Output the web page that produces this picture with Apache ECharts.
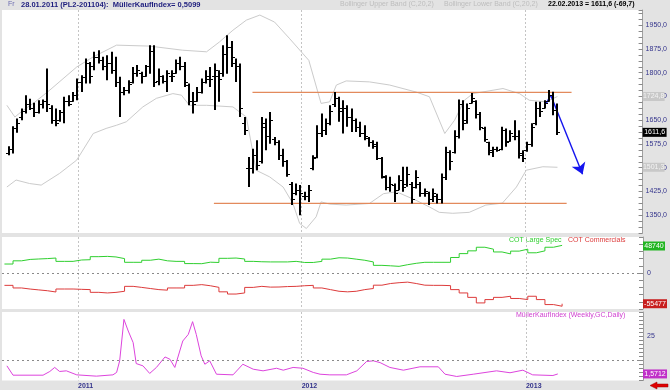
<!DOCTYPE html>
<html><head><meta charset="utf-8">
<script src="https://cdn.jsdelivr.net/npm/echarts@6/dist/echarts.min.js"></script>
<style>html,body{margin:0;padding:0;background:#e3e3e3}#c{width:670px;height:390px}</style>
</head><body><div id="c"></div>
<script>
// ---------- data ----------
const firstBarDate = '2010-09-10';      // weekly bars (Fridays)
const axisStart = '2010-08-30', axisEnd = '2013-07-11';
const yearLabels = ['2011', '2012', '2013'];
const yearDates = ['2011-01-01', '2012-01-01', '2013-01-01'];

const highs = [1568,1631,1655,1687,1729,1718,1705,1713,1715,1813,1697,1687,1682,1724,1729,1739,1782,1792,1845,1834,1866,1871,1850,1855,1866,1850,1787,1755,1776,1818,1824,1803,1824,1887,1887,1813,1792,1808,1808,1842,1850,1834,1766,1739,1755,1782,1808,1818,1829,1808,1887,1918,1900,1845,1829,1660,1534,1560,1587,1660,1655,1676,1597,1587,1560,1524,1455,1450,1445,1424,1445,1539,1634,1671,1655,1697,1739,1724,1713,1697,1687,1655,1645,1634,1597,1587,1582,1534,1476,1471,1450,1476,1503,1503,1455,1492,1455,1434,1424,1434,1418,1482,1566,1555,1618,1715,1713,1703,1736,1713,1676,1629,1582,1566,1566,1629,1624,1618,1650,1618,1555,1582,1640,1708,1708,1713,1745,1740,1703];
const lows = [1539,1545,1610,1650,1671,1682,1660,1671,1687,1676,1639,1631,1645,1640,1694,1708,1713,1739,1766,1766,1808,1829,1808,1776,1797,1755,1660,1729,1734,1766,1787,1766,1787,1797,1755,1760,1766,1739,1771,1797,1808,1755,1697,1671,1708,1734,1766,1755,1682,1708,1787,1797,1818,1771,1660,1603,1439,1482,1492,1513,1555,1576,1571,1524,1503,1471,1382,1413,1350,1397,1392,1492,1530,1597,1603,1634,1692,1645,1608,1629,1613,1613,1597,1587,1566,1560,1524,1466,1429,1424,1392,1429,1424,1440,1387,1434,1408,1408,1382,1392,1387,1387,1461,1492,1545,1592,1618,1639,1703,1655,1618,1582,1539,1534,1550,1555,1566,1582,1587,1529,1518,1550,1566,1634,1660,1687,1708,1666,1603];
const opens = [1545,1560,1625,1660,1680,1700,1690,1675,1700,1710,1690,1650,1650,1675,1710,1710,1730,1770,1785,1830,1820,1850,1840,1820,1830,1810,1770,1740,1745,1770,1800,1800,1790,1820,1870,1775,1790,1775,1790,1800,1830,1820,1760,1710,1710,1740,1770,1780,1790,1790,1800,1860,1880,1830,1820,1640,1500,1500,1540,1520,1630,1600,1590,1580,1540,1520,1450,1420,1430,1410,1410,1500,1535,1610,1620,1640,1700,1720,1690,1690,1660,1650,1630,1610,1595,1580,1575,1530,1470,1440,1445,1430,1460,1450,1450,1440,1450,1420,1420,1400,1410,1400,1470,1550,1550,1600,1700,1650,1705,1710,1670,1625,1580,1555,1560,1560,1620,1585,1600,1600,1545,1555,1575,1640,1690,1690,1710,1730,1681.3];
const closes = [1560,1625,1640,1680,1700,1690,1675,1700,1710,1700,1650,1640,1675,1710,1700,1730,1770,1785,1830,1790,1850,1840,1820,1830,1810,1770,1740,1745,1765,1800,1810,1790,1820,1870,1770,1790,1775,1800,1790,1830,1820,1770,1710,1700,1740,1770,1790,1780,1810,1780,1860,1880,1850,1820,1690,1620,1500,1540,1510,1640,1600,1650,1580,1540,1520,1480,1400,1430,1420,1410,1430,1530,1610,1620,1640,1680,1720,1680,1690,1660,1650,1630,1610,1600,1580,1570,1530,1475,1440,1450,1420,1460,1440,1480,1400,1470,1420,1425,1400,1420,1400,1470,1550,1520,1600,1700,1640,1690,1720,1670,1630,1590,1550,1560,1555,1620,1580,1610,1600,1540,1530,1575,1630,1690,1680,1705,1730,1681.3,1611.6];

const upperDates = ['2010-09-07','2010-09-20','2010-10-04','2010-10-20','2010-11-16','2010-12-30','2011-01-26','2011-03-05','2011-04-28','2011-06-21','2011-07-30','2011-08-20','2011-09-11','2011-10-03','2011-10-25','2011-11-18','2011-12-12','2012-01-13','2012-02-02','2012-02-16','2012-02-27','2012-03-14','2012-04-21','2012-05-24','2012-07-06','2012-07-28','2012-08-22','2012-09-07','2012-09-23','2012-10-07','2012-11-25','2012-12-22','2013-01-07','2013-02-03','2013-02-22'];
const upperVals = [1697,1660,1682,1703,1745,1818,1850,1887,1884,1871,1866,1897,1934,1966,1982,1960,1909,1839,1703,1708,1761,1774,1771,1761,1739,1724,1608,1650,1713,1734,1750,1734,1713,1708,1724.8];
const lowerDates = ['2010-09-07','2010-09-22','2010-10-14','2010-11-02','2010-12-02','2010-12-30','2011-01-26','2011-02-16','2011-03-05','2011-03-21','2011-04-17','2011-05-09','2011-06-05','2011-06-19','2011-07-02','2011-07-30','2011-09-11','2011-10-03','2011-10-19','2011-11-10','2011-12-02','2011-12-18','2011-12-29','2012-01-09','2012-01-25','2012-02-02','2012-02-16','2012-03-14','2012-04-21','2012-05-14','2012-06-04','2012-07-06','2012-07-28','2012-08-13','2012-09-04','2012-10-01','2012-10-28','2012-11-24','2012-12-17','2013-01-02','2013-01-29','2013-02-22'];
const lowerVals = [1439,1461,1450,1445,1482,1524,1608,1624,1634,1645,1692,1719,1734,1729,1697,1697,1692,1660,1492,1471,1439,1387,1324,1308,1345,1392,1385,1382,1387,1418,1424,1397,1376,1359,1356,1359,1382,1388,1439,1492,1503,1501.3];

const resistanceLevel = 1738, resistanceFrom = '2011-10-13', resistanceTo = '2013-03-17';
const supportLevel = 1387, supportFrom = '2011-08-11', supportTo = '2013-03-09';
const projDates = ['2013-02-04', '2013-02-11', '2013-04-04'];
const projVals = [1704, 1729, 1479];

// COT, one value every two weeks
const cotStart = '2010-09-03';
const cotLargeSpec = [16200,22000,24500,25300,26000,27000,21000,21000,23500,24000,29500,30000,29000,26000,19300,19300,23000,25000,22000,21000,21000,17000,16800,19500,19000,26500,27000,25300,21000,20300,20000,20000,20000,21000,19000,19000,21000,25000,27500,27000,25000,23000,20000,13800,13000,12000,15000,17500,19300,19300,19300,19300,28000,35000,40000,46500,43000,38000,34500,39500,43000,36500,40000,46500,49900,48740];
const cotCommercials = [-22300,-27000,-29000,-30500,-32000,-34300,-28900,-28900,-29500,-30000,-34900,-36000,-35000,-33000,-24100,-26000,-28000,-30000,-31000,-27000,-27000,-22300,-21000,-23000,-25900,-34000,-38000,-36000,-26000,-24100,-25500,-25300,-24500,-24100,-23000,-22300,-27000,-30000,-33000,-34000,-33000,-30000,-28000,-22000,-19000,-17500,-16500,-19000,-22000,-22300,-22300,-22800,-30000,-36000,-44000,-54000,-48000,-44000,-42000,-46000,-48000,-42000,-48000,-57000,-60000,-55477];

const mkiDates = ['2010-09-07','2010-09-17','2010-11-05','2010-11-16','2010-11-24','2010-12-02','2010-12-13','2010-12-30','2011-01-31','2011-02-27','2011-03-05','2011-03-10','2011-03-17','2011-03-24','2011-04-01','2011-04-06','2011-04-17','2011-04-28','2011-05-09','2011-05-23','2011-05-31','2011-06-08','2011-06-21','2011-06-30','2011-07-07','2011-07-13','2011-07-21','2011-07-27','2011-08-04','2011-08-15','2011-09-11','2011-09-27','2011-10-14','2011-10-30','2011-11-21','2011-12-02','2011-12-18','2012-01-03','2012-01-20','2012-01-31','2012-02-16','2012-03-14','2012-03-31','2012-04-16','2012-04-27','2012-05-08','2012-05-24','2012-06-15','2012-07-12','2012-08-11','2012-08-22','2012-09-10','2012-10-07','2012-11-14','2012-12-06','2012-12-27','2013-01-12','2013-02-14','2013-02-22'];
const mkiVals = [6.6,0.8,0.8,3.1,5.6,3.1,3.5,1.0,0.2,1.0,2.5,9.7,35.4,28.2,21,8,6.6,1.9,5.6,12.1,10.7,5.6,22,26.1,34,26.1,12.8,7.6,9.7,1.4,1.0,7.6,4.5,3.5,5.1,3.9,5.6,5.1,2.5,1.4,1.0,1.0,3.5,9.3,9.7,8.6,5.6,3.9,6.0,6.0,1.4,0.0,1.4,3.5,2.3,3.9,1.0,0.6,1.5712];
const mkiThreshold = 10;

// ---------- helpers ----------
const DAY = 86400000;
const t = s => Date.parse(s + 'T00:00:00Z');
const xMin = t(axisStart), xMax = t(axisEnd);
const yearTicks = yearDates.map(t);
const barData = opens.map((o, i) => [t(firstBarDate) + i * 7 * DAY, o, highs[i], lows[i], closes[i]]);
const pairs = (ds, vs) => ds.map((d, i) => [t(d), vs[i]]);
const cotData = vs => vs.map((v, i) => [t(cotStart) + i * 14 * DAY, v]);
const fmtDe = (v, d) => v.toFixed(d).replace('.', ',');
const FONT = 'Liberation Sans, Arial, sans-serif';
const AX = '#34348c';
const last = a => a[a.length - 1];

function box(x, y, text, bg, fg, w) {
  return { coord: [x, y], symbol: 'rect', symbolSize: [w, 9], symbolOffset: [w / 2, 0],
    itemStyle: { color: bg },
    label: { show: true, position: 'inside', formatter: text, color: fg, fontSize: 7, fontFamily: FONT } };
}

const xBase = (gi, showLabel) => ({
  type: 'value', gridIndex: gi, min: xMin, max: xMax, scale: true,
  axisLine: { show: false }, axisTick: { show: false, customValues: yearTicks },
  splitLine: { show: true, lineStyle: { type: [2, 2], color: '#c4c4c4', width: 1 } },
  axisLabel: showLabel ? {
    show: true, customValues: yearTicks, align: 'left', margin: 2,
    fontSize: 7, fontWeight: 'bold', color: AX, fontFamily: FONT,
    formatter: v => { const i = yearTicks.indexOf(v); return i >= 0 ? yearLabels[i] : ''; }
  } : { show: false }
});

const yCommon = {
  position: 'right',
  axisLine: { show: true, lineStyle: { color: '#a0a0a0' } },
  axisTick: { show: true, inside: true, length: 4, lineStyle: { color: '#8a8a8a' } },
  splitLine: { show: false },
};

const option = {
  animation: false,
  backgroundColor: '#e3e3e3',
  grid: [
    { left: 2, right: 27, top: 10, height: 223, show: true, backgroundColor: '#fff', borderWidth: 0 },
    { left: 2, right: 27, top: 237, height: 72, show: true, backgroundColor: '#fff', borderWidth: 0 },
    { left: 2, right: 27, top: 312, height: 68.5, show: true, backgroundColor: '#fff', borderWidth: 0 }
  ],
  xAxis: [xBase(0, false), xBase(1, false), xBase(2, true)],
  yAxis: [
    Object.assign({}, yCommon, { gridIndex: 0, min: 1293.75, max: 1998, interval: 18.75,
      axisLabel: { margin: 3, fontSize: 7, color: AX, fontFamily: FONT,
        formatter: v => Math.abs(v / 75 - Math.round(v / 75)) < 1e-6 ? fmtDe(v, 1) : '' } }),
    Object.assign({}, yCommon, { gridIndex: 1, min: -65000, max: 65000, interval: 13000,
      axisLabel: { margin: 4, fontSize: 7, color: AX, fontFamily: FONT,
        formatter: v => Math.abs(v) < 1 ? '0' : '' } }),
    Object.assign({}, yCommon, { gridIndex: 2, min: -2.5, max: 40, interval: 2.5,
      axisLabel: { margin: 4, fontSize: 7, color: AX, fontFamily: FONT,
        formatter: v => (Math.abs(v - 25) < 1e-6 ? '25' : (Math.abs(v) < 1e-6 ? '0' : '')) } })
  ],
  series: [
    { name: 'Bollinger Upper Band', type: 'line', xAxisIndex: 0, yAxisIndex: 0, data: pairs(upperDates, upperVals),
      symbol: 'none', lineStyle: { color: '#cbcbcb', width: 1 }, z: 1, clip: false,
      markPoint: { silent: true, data: [
        box(xMax, last(upperVals), fmtDe(last(upperVals), 1), '#c8c8c8', '#f4f4f4', 22),
        box(xMax, last(lowerVals), fmtDe(last(lowerVals), 1), '#c8c8c8', '#f4f4f4', 22),
        box(xMax, last(closes), fmtDe(last(closes), 1), '#000000', '#ffffff', 24)
      ] } },
    { name: 'Bollinger Lower Band', type: 'line', xAxisIndex: 0, yAxisIndex: 0, data: pairs(lowerDates, lowerVals),
      symbol: 'none', lineStyle: { color: '#cbcbcb', width: 1 }, z: 1 },
    { name: 'Support', type: 'line', xAxisIndex: 0, yAxisIndex: 0,
      data: [[t(supportFrom), supportLevel], [t(supportTo), supportLevel]],
      symbol: 'none', lineStyle: { color: '#e38a5c', width: 1.2 }, z: 2 },
    { name: 'Resistance', type: 'line', xAxisIndex: 0, yAxisIndex: 0,
      data: [[t(resistanceFrom), resistanceLevel], [t(resistanceTo), resistanceLevel]],
      symbol: 'none', lineStyle: { color: '#e38a5c', width: 1.2 }, z: 2,
      markLine: { silent: true, animation: false, label: { show: false },
        lineStyle: { color: '#1414ee', width: 1.4, type: 'solid' }, symbolSize: [0, 10],
        data: [
          [{ coord: [t(projDates[0]), projVals[0]], symbol: 'none' }, { coord: [t(projDates[1]), projVals[1]], symbol: 'none' }],
          [{ coord: [t(projDates[1]), projVals[1]], symbol: 'none' }, { coord: [t(projDates[2]), projVals[2]], symbol: 'arrow', symbolSize: 11 }]
        ] } },
    { name: 'OHLC', type: 'custom', xAxisIndex: 0, yAxisIndex: 0, data: barData, z: 5,
      encode: { x: 0, y: [1, 2, 3, 4] },
      renderItem: (params, api) => {
        const x = api.value(0);
        const h = api.coord([x, api.value(2)]);
        const l = api.coord([x, api.value(3)]);
        const o = api.coord([x, api.value(1)]);
        const c = api.coord([x, api.value(4)]);
        const px = Math.round(h[0]);
        const oy = Math.round(o[1]) + 0.5, cy = Math.round(c[1]) + 0.5;
        return { type: 'group', children: [
          { type: 'line', shape: { x1: px, y1: h[1], x2: px, y2: l[1] }, style: { stroke: '#000', lineWidth: 2 } },
          { type: 'line', shape: { x1: px - 3, y1: oy, x2: px, y2: oy }, style: { stroke: '#000', lineWidth: 1 } },
          { type: 'line', shape: { x1: px, y1: cy, x2: px + 3, y2: cy }, style: { stroke: '#000', lineWidth: 1 } }
        ] };
      } },
    { name: 'COT Large Spec', type: 'line', xAxisIndex: 1, yAxisIndex: 1, data: cotData(cotLargeSpec), step: 'end',
      symbol: 'none', lineStyle: { color: '#2fcf2f', width: 1 }, clip: false,
      markPoint: { silent: true, data: [
        box(xMax, last(cotLargeSpec), String(last(cotLargeSpec)), '#22b522', '#ffffff', 22),
        box(xMax, last(cotCommercials), String(last(cotCommercials)), '#c81e1e', '#ffffff', 24)
      ] },
      markLine: { silent: true, symbol: 'none', label: { show: false },
        lineStyle: { color: '#8a8a8a', type: [2, 3], width: 1 }, data: [{ yAxis: 0 }] } },
    { name: 'COT Commercials', type: 'line', xAxisIndex: 1, yAxisIndex: 1, data: cotData(cotCommercials), step: 'end',
      symbol: 'none', lineStyle: { color: '#dd3b3b', width: 1 } },
    { name: 'MüllerKaufIndex', type: 'line', xAxisIndex: 2, yAxisIndex: 2, data: pairs(mkiDates, mkiVals),
      symbol: 'none', lineStyle: { color: '#dd44dd', width: 1 }, clip: false,
      markPoint: { silent: true, data: [
        box(xMax, last(mkiVals), fmtDe(last(mkiVals), 4), '#c030c8', '#ffffff', 24)
      ] },
      markLine: { silent: true, symbol: 'none', label: { show: false },
        lineStyle: { color: '#8a8a8a', type: [2, 3], width: 1 }, data: [{ yAxis: mkiThreshold }] } }
  ],
  graphic: [
    { type: 'text', left: 8, top: 1, style: { text: 'Fr', fontSize: 7, fill: '#6a6ab0', fontFamily: FONT } },
    { type: 'text', left: 21, top: 0.5, style: { text: '28.01.2011 (PL2-201104):  MüllerKaufIndex= 0,5099', fontSize: 7.5, fontWeight: 'bold', fill: '#1e1e7e', fontFamily: FONT } },
    { type: 'text', left: 340, top: 1, style: { text: 'Bollinger Upper Band (C,20,2)', fontSize: 7, fill: '#bdbdbd', fontFamily: FONT } },
    { type: 'text', left: 444, top: 1, style: { text: 'Bollinger Lower Band (C,20,2)', fontSize: 7, fill: '#bdbdbd', fontFamily: FONT } },
    { type: 'text', left: 548, top: 1, style: { text: '22.02.2013 = 1611,6 (-69,7)', fontSize: 7, fontWeight: 'bold', fill: '#000', fontFamily: FONT } },
    { type: 'text', left: 509, top: 237, style: { text: 'COT Large Spec', fontSize: 7, fill: '#2fcf2f', fontFamily: FONT } },
    { type: 'text', left: 568, top: 237, style: { text: 'COT Commercials', fontSize: 7, fill: '#dd3b3b', fontFamily: FONT } },
    { type: 'text', left: 516, top: 312, style: { text: 'MüllerKaufIndex (Weekly,GC,Daily)', fontSize: 7, fill: '#d040d0', fontFamily: FONT } },
    { type: 'polygon', shape: { points: [[668, 384], [657, 384], [657, 382], [650, 385.5], [657, 389], [657, 387], [668, 387]] },
      style: { fill: '#e00000', stroke: '#900', lineWidth: 0.5 } }
  ]
};
const chart = echarts.init(document.getElementById('c'), null, { renderer: 'canvas', width: 670, height: 390 });
chart.setOption(option);
</script></body></html>
